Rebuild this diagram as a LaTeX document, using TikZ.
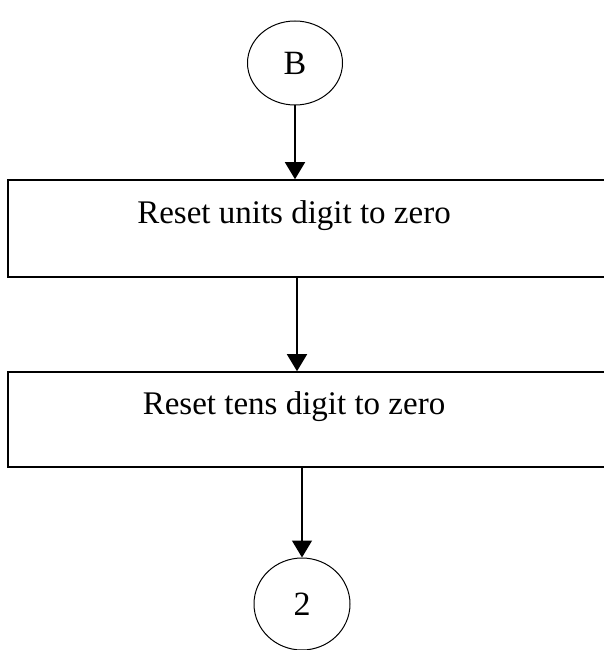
\documentclass[tikz,border=0pt]{standalone}
\usepackage{fontspec}
\setmainfont{Liberation Serif}
\usetikzlibrary{arrows.meta,shapes.geometric}
\begin{document}
\begin{tikzpicture}[x=1pt,y=-1pt,
		connector/.style={ellipse,draw,line width=1pt,inner sep=0pt,font=\fontsize{34}{40}\selectfont},
		procbox/.style={rectangle,draw,line width=1.6pt,minimum width=612pt,inner sep=0pt},
		steptext/.style={font=\fontsize{33}{38}\selectfont,inner sep=0pt,anchor=base},
		flow/.style={line width=1.5pt,-{Triangle[width=20pt,length=17pt]}}]
		\useasboundingbox (0,0) rectangle (604,650);
		\clip (0,0) rectangle (604,650);
		% off-page connector and process steps
		\node[connector,minimum width=95pt,minimum height=84pt] (B) at (295,63) {B};
		\node[procbox,minimum height=97pt] (unitsbox) at (314,228.5) {};
		\node[steptext] (units) at (294,223) {Reset units digit to zero};
		\node[procbox,minimum height=95pt] (tensbox) at (314,419.5) {};
		\node[steptext] (tens) at (294,414) {Reset tens digit to zero};
		\node[connector,minimum width=96pt,minimum height=92pt] (two) at (302,604) {2};
		% flow
		\draw[flow] (B) -- (B |- unitsbox.north);
		\draw[flow] ([xshift=2pt]B |- unitsbox.south) -- ([xshift=2pt]B |- tensbox.north);
		\draw[flow] (two |- tensbox.south) -- (two);
	\end{tikzpicture}
\end{document}
